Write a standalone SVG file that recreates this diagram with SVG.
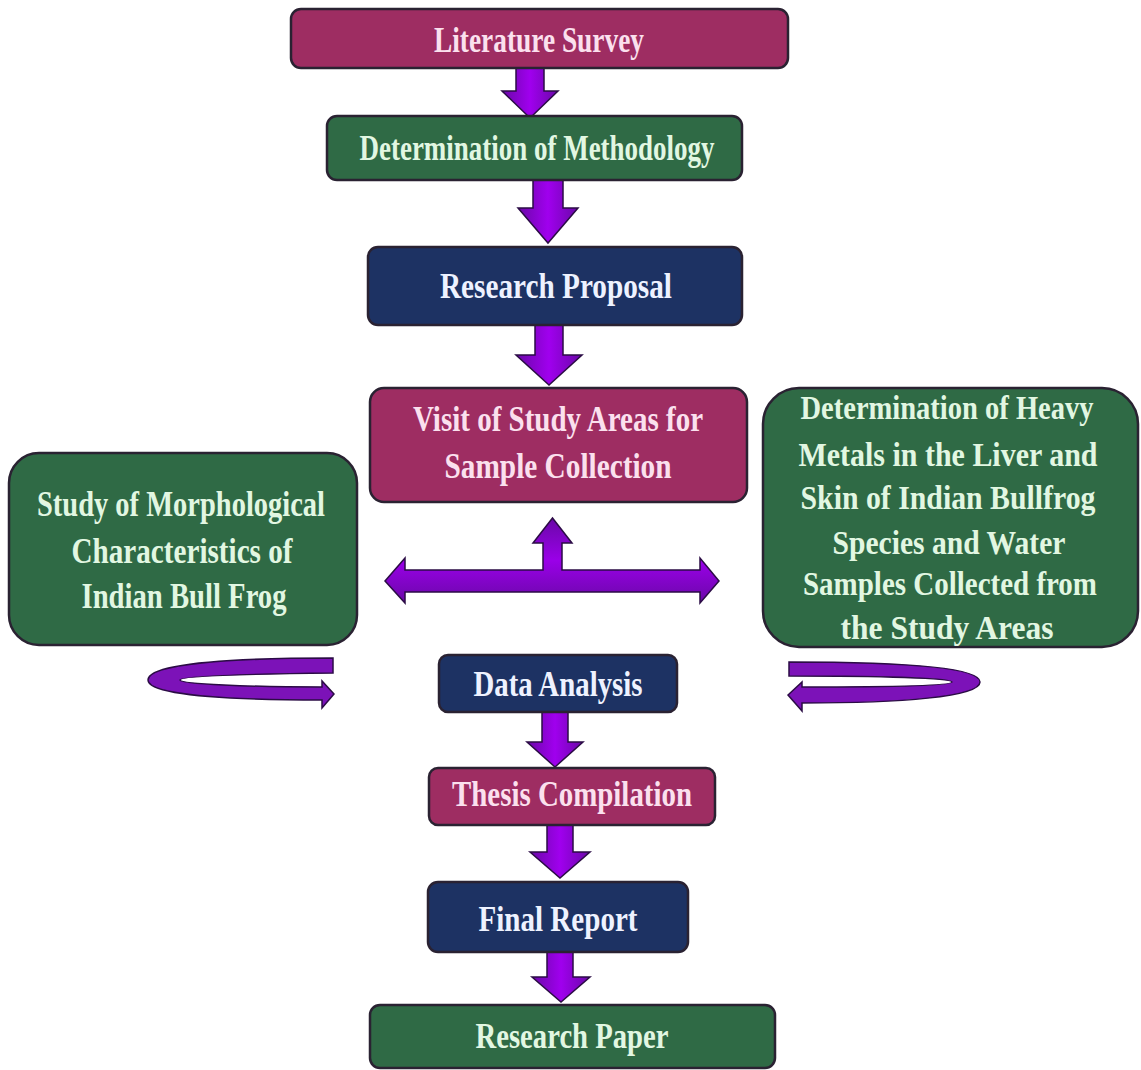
<svg xmlns="http://www.w3.org/2000/svg" width="1141" height="1070" viewBox="0 0 1141 1070">
<defs>
<linearGradient id="gv" x1="0" y1="0" x2="1" y2="0">
<stop offset="0" stop-color="#6a08a8"/>
<stop offset="0.5" stop-color="#a000ee"/>
<stop offset="1" stop-color="#6a08a8"/>
</linearGradient>
<linearGradient id="gh" x1="0" y1="0" x2="0" y2="1">
<stop offset="0" stop-color="#6a08a8"/>
<stop offset="0.5" stop-color="#9a00e8"/>
<stop offset="1" stop-color="#6a08a8"/>
</linearGradient>
<style>
.box{stroke:#2a2232;stroke-width:2.5}
.m{fill:#9e2d62}
.g{fill:#2f6a45}
.n{fill:#1d3263}
text{font-family:"Liberation Serif","Times New Roman",serif;font-weight:bold;text-anchor:middle;font-size:35px}
.tm{fill:#fbe0ee}
.tg{fill:#e2f7e2}
.tn{fill:#eef2ff}
.ml{font-size:33px}
.arr{fill:url(#gv);stroke:#2b0c45;stroke-width:1.5;stroke-linejoin:miter}
.harr{fill:url(#gh);stroke:#2b0c45;stroke-width:1.5}
.cur{fill:#7c12b8;stroke:#2b0c45;stroke-width:1.5}
</style>
</defs>
<rect width="1141" height="1070" fill="#ffffff"/>

<g id="connectors">
<polygon class="arr" points="516,68 544,68 544,91 558,91 530,118 502,91 516,91"/>
<polygon class="arr" points="533,180 563,180 563,208 578,208 548,243 518,208 533,208"/>
<polygon class="arr" points="535,325 563,325 563,355 582,355 549,385 516,355 535,355"/>
<polygon class="harr" points="385,581 405,558 405,570 543,570 543,543 533,543 552.5,518 572,543 562,543 562,570 700,570 700,558 719,581 700,603 700,592 405,592 405,603"/>
<path class="cur" d="M333,658 L333,673 C250,674 180,676 180,680 C180,684 250,687 322,687 L322,681 L334,694 L322,708 L322,700 C230,700 148,695 148,680 C148,664 230,658 333,658 Z"/>
<path class="cur" d="M789,662 C900,662 980,667 980,682 C980,697 900,703 802,703 L802,711 L788,695 L802,682 L802,687 C880,687 952,686 952,682 C952,678 880,676 789,676 Z"/>
<polygon class="arr" points="542,712 568,712 568,742 583,742 555,767 527,742 542,742"/>
<polygon class="arr" points="547,825 573,825 573,852 590,852 560,878 530,852 547,852"/>
<polygon class="arr" points="547,952 573,952 573,977 590,977 561,1002 532,977 547,977"/>
</g>

<g id="node-literature-survey">
<rect class="box m" x="291" y="9" width="497" height="59" rx="10"/>
<text class="tm" x="539" y="52" textLength="210" lengthAdjust="spacingAndGlyphs">Literature Survey</text>
</g>

<g id="node-methodology">
<rect class="box g" x="327" y="116" width="415" height="64" rx="10"/>
<text class="tg" x="537" y="160" textLength="355" lengthAdjust="spacingAndGlyphs">Determination of Methodology</text>
</g>

<g id="node-research-proposal">
<rect class="box n" x="368" y="247" width="374" height="78" rx="10"/>
<text class="tn" x="556" y="298" textLength="232" lengthAdjust="spacingAndGlyphs">Research Proposal</text>
</g>

<g id="node-visit">
<rect class="box m" x="370" y="388" width="377" height="114" rx="14"/>
<text class="tm" x="558" y="431" textLength="290" lengthAdjust="spacingAndGlyphs">Visit of Study Areas for</text>
<text class="tm" x="558" y="478" textLength="227" lengthAdjust="spacingAndGlyphs">Sample Collection</text>
</g>

<g id="node-morphology">
<rect class="box g" x="9" y="453" width="348" height="192" rx="30"/>
<text class="tg" x="181" y="516" textLength="288" lengthAdjust="spacingAndGlyphs">Study of Morphological</text>
<text class="tg" x="182" y="563" textLength="221" lengthAdjust="spacingAndGlyphs">Characteristics of</text>
<text class="tg" x="184" y="608" textLength="205" lengthAdjust="spacingAndGlyphs">Indian Bull Frog</text>
</g>

<g id="node-heavy-metals">
<rect class="box g" x="763" y="388" width="375" height="259" rx="36"/>
<text class="tg ml" x="947" y="419" textLength="293" lengthAdjust="spacingAndGlyphs">Determination of Heavy</text>
<text class="tg ml" x="948" y="466" textLength="299" lengthAdjust="spacingAndGlyphs">Metals in the Liver and</text>
<text class="tg ml" x="948" y="509" textLength="295" lengthAdjust="spacingAndGlyphs">Skin of Indian Bullfrog</text>
<text class="tg ml" x="949" y="554" textLength="233" lengthAdjust="spacingAndGlyphs">Species and Water</text>
<text class="tg ml" x="950" y="595" textLength="294" lengthAdjust="spacingAndGlyphs">Samples Collected from</text>
<text class="tg ml" x="947" y="639" textLength="213" lengthAdjust="spacingAndGlyphs">the Study Areas</text>
</g>

<g id="node-data-analysis">
<rect class="box n" x="439" y="655" width="238" height="57" rx="9"/>
<text class="tn" x="558" y="696" textLength="169" lengthAdjust="spacingAndGlyphs">Data Analysis</text>
</g>

<g id="node-thesis">
<rect class="box m" x="429" y="768" width="286" height="57" rx="9"/>
<text class="tm" x="572" y="806" textLength="240" lengthAdjust="spacingAndGlyphs">Thesis Compilation</text>
</g>

<g id="node-final-report">
<rect class="box n" x="428" y="882" width="260" height="70" rx="10"/>
<text class="tn" x="558" y="931" textLength="159" lengthAdjust="spacingAndGlyphs">Final Report</text>
</g>

<g id="node-research-paper">
<rect class="box g" x="370" y="1005" width="405" height="63" rx="10"/>
<text class="tg" x="572" y="1048" textLength="193" lengthAdjust="spacingAndGlyphs">Research Paper</text>
</g>
</svg>
